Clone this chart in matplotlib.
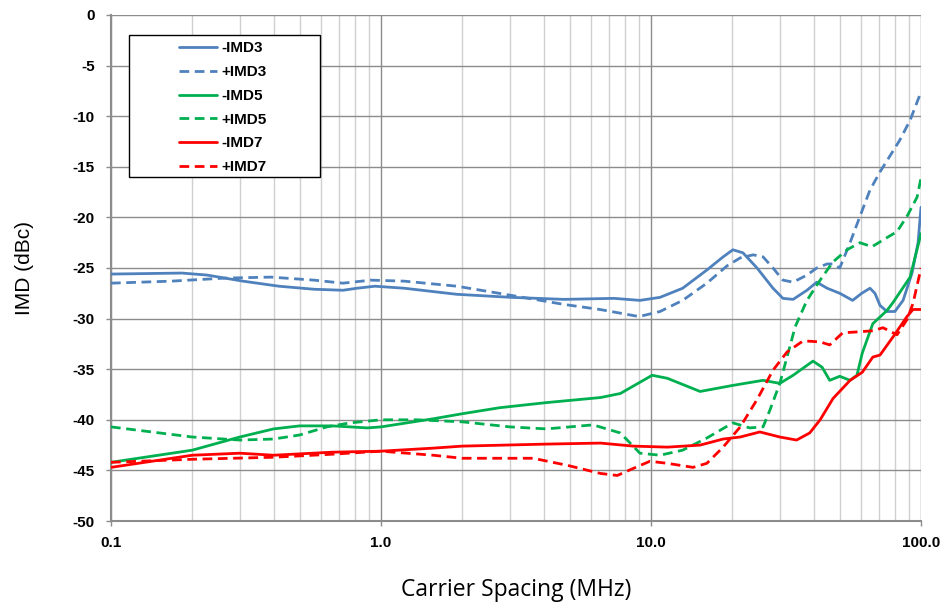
import matplotlib
matplotlib.use("Agg")
import matplotlib.pyplot as plt
from matplotlib.patches import Rectangle
from matplotlib.ticker import FixedLocator, NullFormatter, LogLocator

plt.rcParams["axes.unicode_minus"] = False

# ---- data (MHz, dBc) ----
x_m3 = [0.1, 0.183, 0.227, 0.308, 0.419, 0.565, 0.723, 0.815, 0.95, 1.22, 1.91, 3.03, 4.76, 7.29, 9.1, 10.8,
        13.1, 16.1, 18.5, 20.1, 21.9, 24.7, 28.3, 30.8, 33.6, 37.8, 41.1, 44.9, 50.0, 55.8, 60.3, 64.7, 67.5,
        70.5, 74.8, 80.0, 85.8, 92.6, 97.5, 100]
y_m3 = [-25.6, -25.5, -25.7, -26.3, -26.8, -27.1, -27.2, -27.0, -26.8, -27.0, -27.6, -27.9, -28.1, -28.0, -28.2, -27.9,
        -27.0, -25.2, -23.9, -23.2, -23.5, -25.0, -27.0, -28.0, -28.1, -27.2, -26.4, -27.0, -27.5, -28.2, -27.5, -27.0, -27.5,
        -28.7, -29.3, -29.3, -28.2, -25.5, -22.5, -19.0]

x_p3 = [0.1, 0.167, 0.264, 0.391, 0.565, 0.723, 0.918, 1.22, 1.91, 3.03, 4.76, 6.47, 9.03, 10.8, 13.1, 16.1,
        19.1, 21.4, 23.9, 26.0, 28.3, 30.8, 33.6, 37.8, 41.1, 44.9, 47.2, 50.0, 54.6, 59.4, 64.7, 70.5, 83.3,
        91.1, 100]
y_p3 = [-26.5, -26.3, -26.0, -25.9, -26.2, -26.5, -26.2, -26.3, -26.8, -27.7, -28.6, -29.1, -29.8, -29.3, -28.2, -26.5,
        -24.8, -24.0, -23.7, -23.9, -25.0, -26.2, -26.4, -25.7, -25.0, -24.6, -24.6, -25.0, -22.5, -19.9, -17.3, -15.5, -12.4,
        -10.4, -7.6]

x_m5 = [0.1, 0.2, 0.3, 0.4, 0.5, 0.66, 0.89, 1.0, 1.56, 2.0, 2.76, 4.1, 6.5, 7.7, 10.1, 11.5, 15.2, 20.1,
        26.0, 30.0, 33.6, 39.8, 43.0, 45.9, 50.0, 54.6, 57.9, 60.6, 66.3, 74.8, 78.8, 91.1, 100]
y_m5 = [-44.2, -43.0, -41.7, -40.9, -40.6, -40.6, -40.8, -40.7, -39.9, -39.4, -38.8, -38.3, -37.8, -37.4, -35.6, -35.9,
        -37.2, -36.6, -36.1, -36.4, -35.6, -34.2, -34.8, -36.1, -35.7, -36.1, -35.6, -33.4, -30.5, -29.2, -28.4, -25.9, -21.6]

x_p5 = [0.1, 0.2, 0.3, 0.4, 0.5, 0.63, 0.77, 1.0, 1.36, 2.0, 3.0, 4.1, 6.1, 7.7, 9.1, 10.8, 13.1, 16.1,
        20.1, 23.2, 26.0, 27.6, 30.0, 31.9, 34.2, 37.8, 42.3, 47.2, 53.2, 59.4, 65.8, 74.8, 81.5, 88.7, 96.7, 100]
y_p5 = [-40.7, -41.7, -42.0, -41.9, -41.5, -40.7, -40.3, -40.0, -40.0, -40.2, -40.7, -40.9, -40.5, -41.3, -43.3, -43.5,
        -43.0, -41.8, -40.3, -40.8, -40.7, -39.0, -36.4, -33.8, -30.8, -28.2, -26.2, -24.4, -23.2, -22.5, -22.9, -22.0,
        -21.4, -19.9, -18.0, -16.1]

x_m7 = [0.1, 0.2, 0.3, 0.4, 0.66, 1.0, 1.56, 2.0, 4.1, 6.5, 8.6, 11.5, 15.2, 18.5, 21.4, 25.3, 30.0, 34.6,
        38.7, 42.3, 47.2, 54.6, 60.6, 66.3, 70.5, 78.8, 88.7, 93.4, 100]
y_m7 = [-44.7, -43.5, -43.3, -43.5, -43.2, -43.1, -42.8, -42.6, -42.4, -42.3, -42.6, -42.7, -42.5, -41.9, -41.7, -41.2,
        -41.7, -42.0, -41.3, -40.0, -37.9, -36.1, -35.3, -33.8, -33.6, -31.8, -29.8, -29.1, -29.1]

x_p7 = [0.1, 0.2, 0.4, 0.66, 1.0, 1.56, 2.0, 3.66, 4.9, 6.5, 7.5, 8.6, 9.9, 11.5, 14.3, 16.1, 18.5, 21.4,
        24.7, 28.3, 31.9, 36.6, 42.3, 45.9, 51.3, 59.4, 66.3, 72.3, 81.5, 88.7, 93.4, 100]
y_p7 = [-44.2, -43.9, -43.7, -43.4, -43.1, -43.5, -43.8, -43.8, -44.5, -45.3, -45.5, -44.8, -44.1, -44.3, -44.7, -44.3,
        -42.7, -40.7, -38.0, -35.1, -33.3, -32.2, -32.3, -32.6, -31.4, -31.3, -31.2, -30.9, -31.6, -30.1, -28.5, -25.0]

x_ticks = [0.1, 1.0, 10.0, 100.0]
x_tick_labels = ["0.1", "1.0", "10.0", "100.0"]
y_ticks = list(range(-50, 1, 5))

BLUE = "#4F81BD"
GREEN = "#00B050"
RED = "#FF0000"

fig = plt.figure(figsize=(9.46, 6.04), dpi=100)
ax = fig.add_axes([0.1173, 0.1374, 0.8563, 0.8378])

ax.set_xscale("log")
ax.set_xlim(0.1, 100)
ax.set_ylim(-50, 0)

lw = 2.0
dash = (0, (3.5, 2))
series = [
    (x_m3, y_m3, BLUE, "-", "-IMD3"),
    (x_p3, y_p3, BLUE, dash, "+IMD3"),
    (x_m5, y_m5, GREEN, "-", "-IMD5"),
    (x_p5, y_p5, GREEN, dash, "+IMD5"),
    (x_m7, y_m7, RED, "-", "-IMD7"),
    (x_p7, y_p7, RED, dash, "+IMD7"),
]
for xs, ys, c, ls, lab in series:
    ax.plot(xs, ys, color=c, linestyle=ls, linewidth=lw, label=lab,
            solid_capstyle="round", solid_joinstyle="round",
            dash_capstyle="butt", dash_joinstyle="round", zorder=3)

ax.xaxis.set_major_locator(FixedLocator(x_ticks))
ax.set_xticklabels(x_tick_labels)
ax.xaxis.set_minor_locator(LogLocator(base=10, subs=range(2, 10)))
ax.xaxis.set_minor_formatter(NullFormatter())
ax.set_yticks(y_ticks)

ax.grid(which="major", axis="both", color="#8c8c8c", linewidth=1.0, zorder=0)
ax.grid(which="minor", axis="x", color="#d0d0d0", linewidth=1.0, zorder=0)
ax.set_axisbelow(True)

for s in ["top", "right"]:
    ax.spines[s].set_visible(False)
for s in ["left", "bottom"]:
    ax.spines[s].set_color("#8c8c8c")
    ax.spines[s].set_linewidth(1.5)

ax.tick_params(axis="both", which="major", direction="out", length=3.6,
               color="#8c8c8c", width=1.0)
ax.tick_params(axis="y", pad=8)
ax.tick_params(axis="x", pad=7)
ax.tick_params(axis="x", which="minor", length=0)
for lbl in ax.get_xticklabels() + ax.get_yticklabels():
    lbl.set_fontfamily("Liberation Sans")
    lbl.set_fontweight("bold")
    lbl.set_fontsize(11)

ax.set_xlabel("Carrier Spacing (MHz)", fontsize=16.5, family="Open Sans", labelpad=20)
ax.set_ylabel("IMD (dBc)", fontsize=15, family="Liberation Sans", labelpad=28)

# legend box (Excel style, wide frame)
box = Rectangle((0.0222, 0.680), 0.2358, 0.2805, transform=ax.transAxes,
                facecolor="white", edgecolor="black", linewidth=1.0, zorder=4)
ax.add_patch(box)
leg = ax.legend(loc="upper left", bbox_to_anchor=(0.084, 0.948),
                prop={"family": "Liberation Sans", "weight": "bold", "size": 11},
                frameon=False, handlelength=2.5,
                labelspacing=0.64, borderpad=0.0, handletextpad=0.3,
                borderaxespad=0.0)
leg.set_zorder(5)

fig.savefig("out.png", dpi=100)
